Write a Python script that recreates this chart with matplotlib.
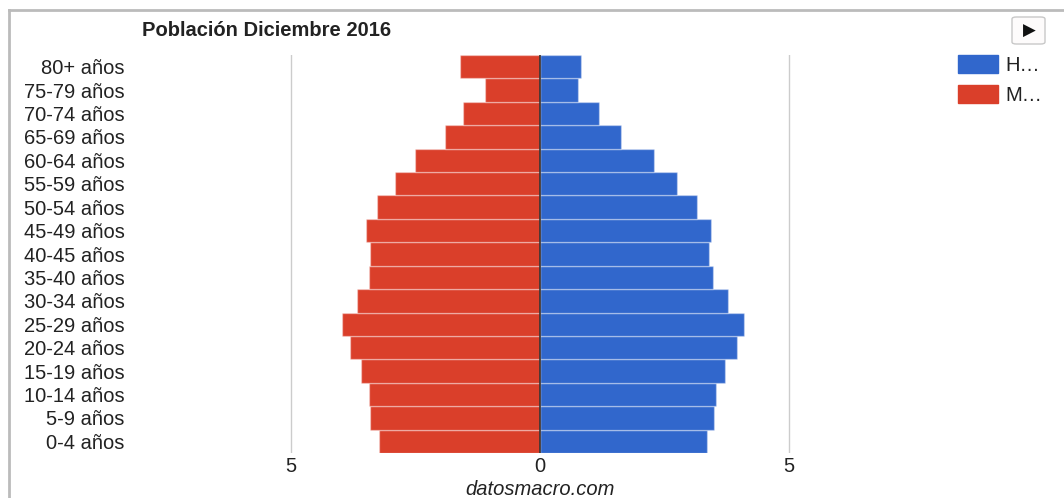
#! /usr/bin/env python
import matplotlib
matplotlib.use('Agg')
import matplotlib.pyplot as plt
from matplotlib.patches import Rectangle, FancyBboxPatch
from matplotlib.ticker import FuncFormatter

# age groups, bottom to top
age_groups = ['0-4 años', '5-9 años', '10-14 años', '15-19 años', '20-24 años',
              '25-29 años', '30-34 años', '35-40 años', '40-45 años', '45-49 años',
              '50-54 años', '55-59 años', '60-64 años', '65-69 años', '70-74 años',
              '75-79 años', '80+ años']
# percent of population
hombres = [3.35, 3.49, 3.53, 3.72, 3.96, 4.09, 3.78, 3.47, 3.40, 3.43,
           3.15, 2.75, 2.28, 1.63, 1.19, 0.76, 0.82]
mujeres = [3.23, 3.41, 3.44, 3.60, 3.82, 3.97, 3.68, 3.44, 3.41, 3.50,
           3.28, 2.91, 2.50, 1.91, 1.54, 1.10, 1.61]
legend_labels = ['H…', 'M…']
title = 'Población Diciembre 2016'
source = 'datosmacro.com'

blue = '#3167cc'
red = '#da3f2a'
txt = '#222222'
fs = 14.5

plt.rcParams['font.family'] = ['Liberation Sans', 'DejaVu Sans']

W, H = 1064, 498
fig = plt.figure(figsize=(W / 100, H / 100), dpi=100)

def fx(px):
    return px / W

def fy(py):
    return 1 - py / H

ax = fig.add_axes([fx(140), fy(453), fx(800), 398 / H])

ypos = list(range(len(age_groups)))
ax.barh(ypos, hombres, height=1.0, color=blue, edgecolor=(1, 1, 1, 0.35), lw=1, zorder=2)
ax.barh(ypos, [-m for m in mujeres], height=1.0, color=red, edgecolor=(1, 1, 1, 0.35), lw=1, zorder=2)

ax.set_xlim(-8.03, 8.03)
ax.set_ylim(-0.5, len(age_groups) - 0.5)
for gx in (-5, 5):
    ax.axvline(gx, color='#cccccc', lw=1, zorder=1)
ax.axvline(0, color='#333333', lw=1.2, zorder=3)

ax.set_xticks([-5, 0, 5])
ax.xaxis.set_major_formatter(FuncFormatter(lambda v, p: '%d' % abs(v)))
ax.set_yticks(ypos)
ax.set_yticklabels(age_groups)
ax.tick_params(axis='both', length=0, labelsize=fs, labelcolor=txt)
ax.tick_params(axis='y', pad=11)
ax.tick_params(axis='x', pad=3)
for s in ax.spines.values():
    s.set_visible(False)

fig.text(fx(142), fy(30), title, fontsize=fs, fontweight='bold', color=txt,
         ha='left', va='center')
fig.text(fx(540), fy(489), source, fontsize=fs, style='italic', color=txt,
         ha='center', va='center')

# legend
for i, (lab, col) in enumerate(zip(legend_labels, [blue, red])):
    y0 = 55 + i * 30
    fig.patches.append(Rectangle((fx(958), fy(y0 + 18)), fx(40), 18 / H,
                                 transform=fig.transFigure, color=col))
    fig.text(fx(1005), fy(y0 + 10), lab, fontsize=fs, color=txt, ha='left', va='center')

# play button
fig.patches.append(FancyBboxPatch((fx(1012), fy(44)), fx(33), 27 / H,
                                  boxstyle='round,pad=0,rounding_size=0.004',
                                  transform=fig.transFigure, facecolor='#fdfbfb',
                                  edgecolor='#c8c8c8', lw=1))
fig.text(fx(1029), fy(31), '▶', fontsize=12, color='#111111', ha='center',
         va='center', family='DejaVu Sans')

# frame around the chart
fig.add_artist(plt.Line2D([fx(9), fx(9)], [0, fy(10)], transform=fig.transFigure,
                          color='#bbbbbb', lw=2))
fig.add_artist(plt.Line2D([fx(9), 1], [fy(10), fy(10)], transform=fig.transFigure,
                          color='#bbbbbb', lw=2))

fig.savefig('out.png', dpi=100, facecolor='white')
